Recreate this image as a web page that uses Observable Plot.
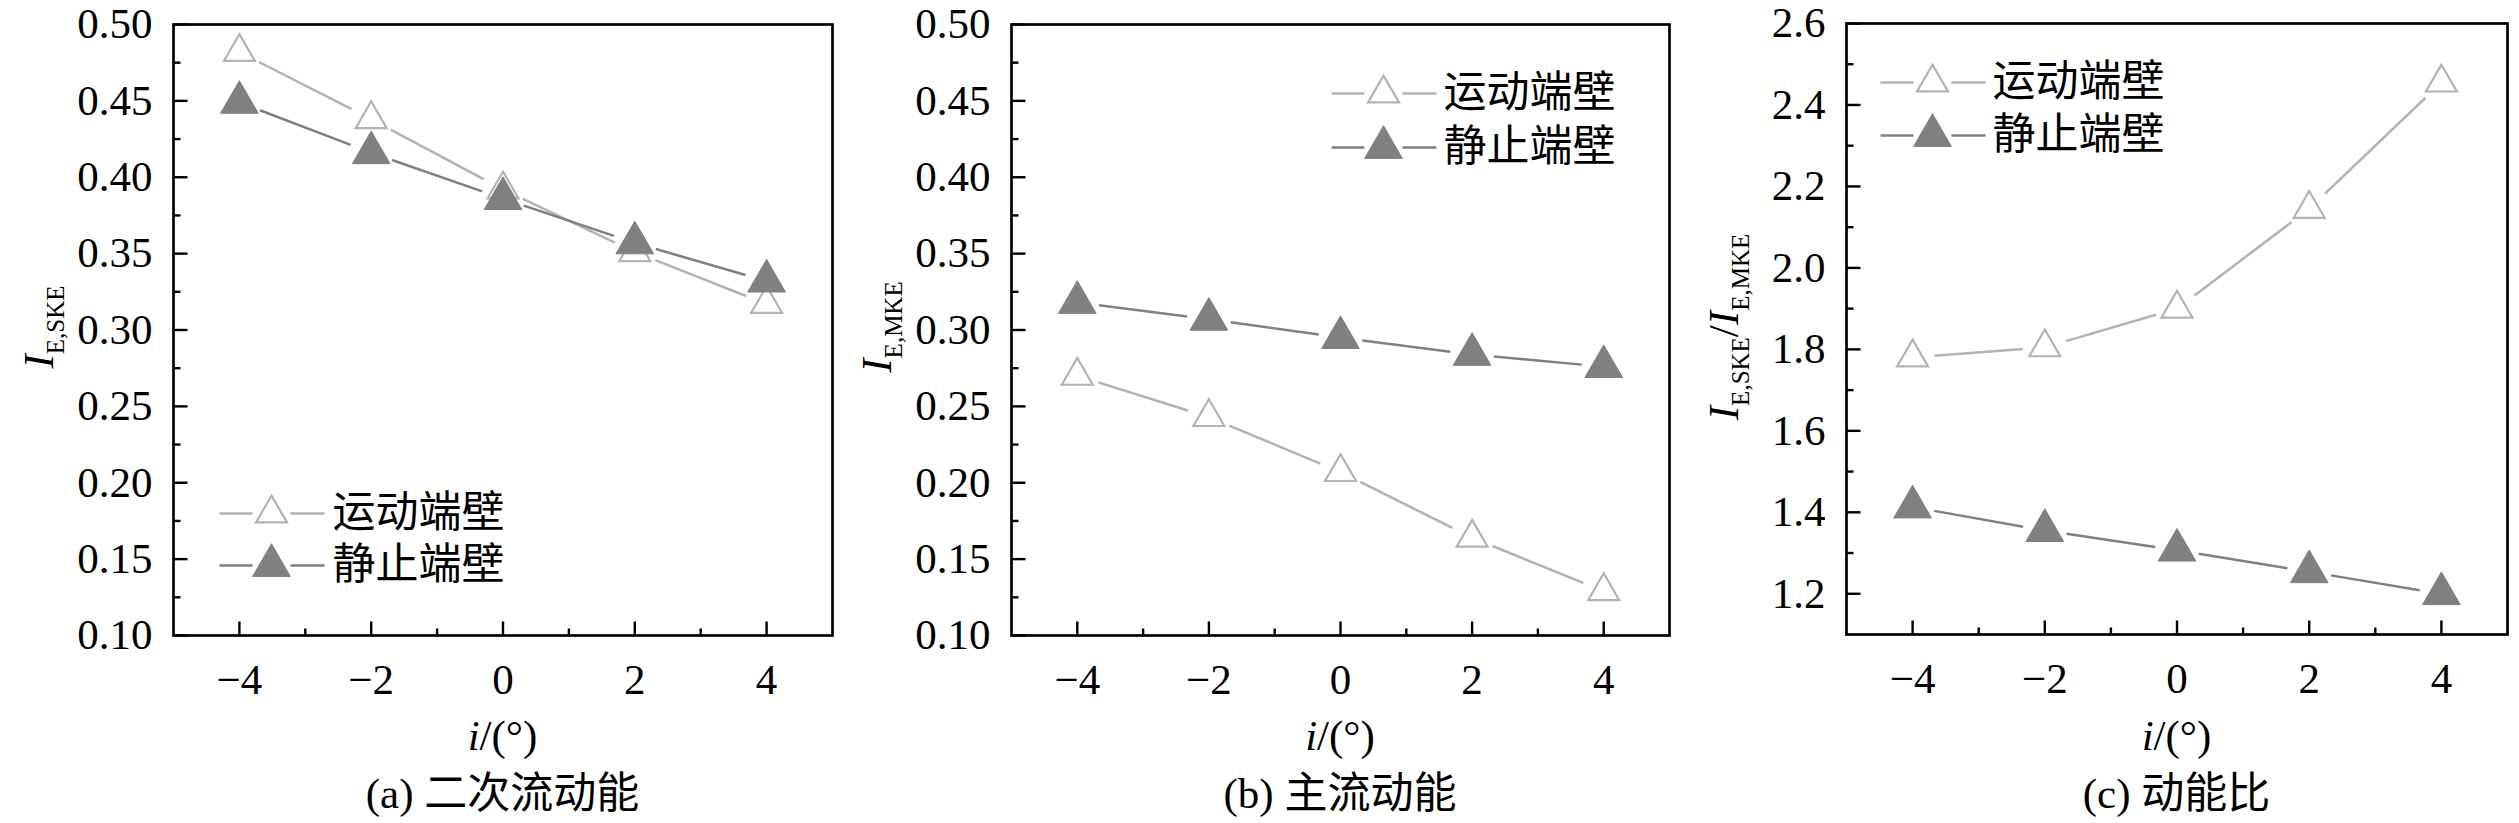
<!DOCTYPE html>
<html><head><meta charset="utf-8">
<script src="https://cdn.jsdelivr.net/npm/d3@7"></script>
<script src="https://cdn.jsdelivr.net/npm/@observablehq/plot@0.6"></script>
<style>
body{margin:0;background:#fff;}
#root{position:relative;width:2519px;height:823px;overflow:hidden;background:#fff;}
.p{position:absolute;top:0;}
.lab{position:absolute;font-family:"Liberation Serif","Times New Roman",Tinos,"DejaVu Serif","Noto Sans CJK SC";font-size:43px;line-height:1;white-space:nowrap;color:#000;transform:translate(-50%,-50%);}
.ylab{transform:translate(-50%,-50%) rotate(-90deg);}
.ylab sub{font-size:25px;vertical-align:baseline;position:relative;top:11px;}
svg.p text{font-family:"Liberation Serif","Times New Roman",Tinos,"DejaVu Serif","Noto Sans CJK SC";}
</style></head><body><div id="root"></div>
<script>
// ---- data ----
const incidence = [-4, -2, 0, 2, 4];
const seriesNames = ["运动端壁", "静止端壁"];
const skeMoving = [0.482, 0.438, 0.392, 0.351, 0.317];
const skeStatic = [0.449, 0.416, 0.386, 0.357, 0.332];
const mkeMoving = [0.270, 0.243, 0.207, 0.164, 0.129];
const mkeStatic = [0.318, 0.307, 0.295, 0.284, 0.276];
const ratioMoving = [1.780, 1.805, 1.900, 2.145, 2.455];
const ratioStatic = [1.413, 1.355, 1.307, 1.254, 1.200];
const xMajor = [-4, -2, 0, 2, 4];
const xMinor = [-3, -1, 1, 3];
const yMajorAB = [0.10, 0.15, 0.20, 0.25, 0.30, 0.35, 0.40, 0.45, 0.50];
const yMinorAB = [0.125, 0.175, 0.225, 0.275, 0.325, 0.375, 0.425, 0.475];
const yMajorC = [1.2, 1.4, 1.6, 1.8, 2.0, 2.2, 2.4, 2.6];
const yMinorC = [1.3, 1.5, 1.7, 1.9, 2.1, 2.3, 2.5];
const captions = ["(a) 二次流动能", "(b) 主流动能", "(c) 动能比"];

// ---- styles ----
const movingColor = "#b3b3b3";
const staticColor = "#808080";
const FONT = '"Liberation Serif","Times New Roman",Tinos,"DejaVu Serif","Noto Sans CJK SC"';
const tickRight = len => ({draw(ctx){ ctx.moveTo(0,0); ctx.lineTo(len,0); }});
const tickUp = len => ({draw(ctx){ ctx.moveTo(0,0); ctx.lineTo(0,-len); }});
const legendLine = {draw(ctx){ ctx.moveTo(-52,0); ctx.lineTo(-19,0); ctx.moveTo(19,0); ctx.lineTo(53,0); }};
const fmtX = d => d < 0 ? "\u2212" + Math.abs(d) : String(d);

const series = [
  {name: seriesNames[0], line: movingColor, fill: "white", stroke: movingColor, r: 11.5, sw: 2.2},
  {name: seriesNames[1], line: staticColor, fill: staticColor, stroke: staticColor, r: 14, sw: 1}
];

function panel(cfg) {
  const segs = vals => incidence.slice(1).map((x2, i) => ({x1: incidence[i], y1: vals[i], x2, y2: vals[i + 1]}));
  const pts = vals => incidence.map((x, i) => ({x, y: vals[i]}));
  const valsList = [cfg.moving, cfg.fixed];
  const marks = [
    Plot.frame({stroke: "black", strokeWidth: 2.7}),
    Plot.dot(cfg.yMajor, {y: d => d, frameAnchor: "left", symbol: tickRight(14), stroke: "black", strokeWidth: 2.4, fill: "none"}),
    Plot.dot(cfg.yMinor, {y: d => d, frameAnchor: "left", symbol: tickRight(7), stroke: "black", strokeWidth: 2.4, fill: "none"}),
    Plot.dot(xMajor, {x: d => d, frameAnchor: "bottom", symbol: tickUp(14), stroke: "black", strokeWidth: 2.4, fill: "none"}),
    Plot.dot(xMinor, {x: d => d, frameAnchor: "bottom", symbol: tickUp(7), stroke: "black", strokeWidth: 2.4, fill: "none"})
  ];
  series.forEach((s, k) => {
    marks.push(Plot.arrow(segs(valsList[k]), {x1: "x1", y1: "y1", x2: "x2", y2: "y2", headLength: 0, insetStart: 22, insetEnd: 22, stroke: s.line, strokeWidth: 2.5, strokeLinecap: "butt"}));
    marks.push(Plot.dot(pts(valsList[k]), {x: "x", y: "y", symbol: "triangle", r: s.r, fill: s.fill, stroke: s.stroke, strokeWidth: s.sw}));
    const dy = cfg.legend.dy + k * cfg.legend.gap;
    marks.push(Plot.dot([s.name], {frameAnchor: "top-left", dx: cfg.legend.dx, dy, symbol: legendLine, stroke: s.line, strokeWidth: 2.5, fill: "none"}));
    marks.push(Plot.dot([s.name], {frameAnchor: "top-left", dx: cfg.legend.dx, dy, symbol: "triangle", r: s.r, fill: s.fill, stroke: s.stroke, strokeWidth: s.sw}));
    marks.push(Plot.text([s.name], {frameAnchor: "top-left", dx: cfg.legend.tx, dy, text: d => d, textAnchor: "start", lineAnchor: "middle", fontFamily: FONT, fontSize: 43, fill: "black"}));
  });
  const svg = Plot.plot({
    width: cfg.marginLeft + cfg.frameW + cfg.marginRight,
    height: 720,
    marginLeft: cfg.marginLeft,
    marginRight: cfg.marginRight,
    marginTop: cfg.top,
    marginBottom: 720 - cfg.top - 611,
    x: {domain: [-5, 5], ticks: xMajor, tickFormat: fmtX, tickSize: 0, tickPadding: 28, label: null},
    y: {domain: cfg.yDomain, ticks: cfg.yMajor, tickFormat: cfg.yFmt, tickSize: 0, tickPadding: 21, label: null},
    style: {fontFamily: FONT, fontSize: "43px", color: "black", background: "white", overflow: "visible"},
    marks
  });
  svg.classList.add("p");
  svg.style.left = cfg.left + "px";
  svg.style.maxWidth = "none";
  return svg;
}

const root = document.getElementById("root");
const cfgs = [
  {left: 0, marginLeft: 173, frameW: 659, marginRight: 10, top: 24, yDomain: [0.10, 0.50], yMajor: yMajorAB, yMinor: yMinorAB, yFmt: d3.format(".2f"),
   moving: skeMoving, fixed: skeStatic, legend: {dx: 98, dy: 489, gap: 52, tx: 159},
   ylab: '<i>I</i><sub>E,SKE</sub>', ylx: 38},
  {left: 838, marginLeft: 173, frameW: 658, marginRight: 10, top: 24, yDomain: [0.10, 0.50], yMajor: yMajorAB, yMinor: yMinorAB, yFmt: d3.format(".2f"),
   moving: mkeMoving, fixed: mkeStatic, legend: {dx: 372, dy: 69, gap: 54, tx: 432},
   ylab: '<i>I</i><sub>E,MKE</sub>', ylx: 876},
  {left: 1673, marginLeft: 173, frameW: 661, marginRight: 12, top: 23, yDomain: [1.1, 2.6], yMajor: yMajorC, yMinor: yMinorC, yFmt: d3.format(".1f"),
   moving: ratioMoving, fixed: ratioStatic, legend: {dx: 86, dy: 59, gap: 53, tx: 146},
   ylab: '<i>I</i><sub>E,SKE</sub>/<i>I</i><sub>E,MKE</sub>', ylx: 1723}
];
cfgs.forEach((cfg, i) => {
  root.appendChild(panel(cfg));
  const cx = cfg.left + cfg.marginLeft + cfg.frameW / 2;
  const xl = document.createElement("div");
  xl.className = "lab";
  xl.style.left = cx + "px"; xl.style.top = "735px";
  xl.innerHTML = '<i>i</i>/(°)';
  root.appendChild(xl);
  const cap = document.createElement("div");
  cap.className = "lab";
  cap.style.left = cx + "px"; cap.style.top = "793px";
  cap.textContent = captions[i];
  root.appendChild(cap);
  const yl = document.createElement("div");
  yl.className = "lab ylab";
  yl.style.left = cfg.ylx + "px"; yl.style.top = "327px";
  yl.innerHTML = cfg.ylab;
  root.appendChild(yl);
});
</script></body></html>
